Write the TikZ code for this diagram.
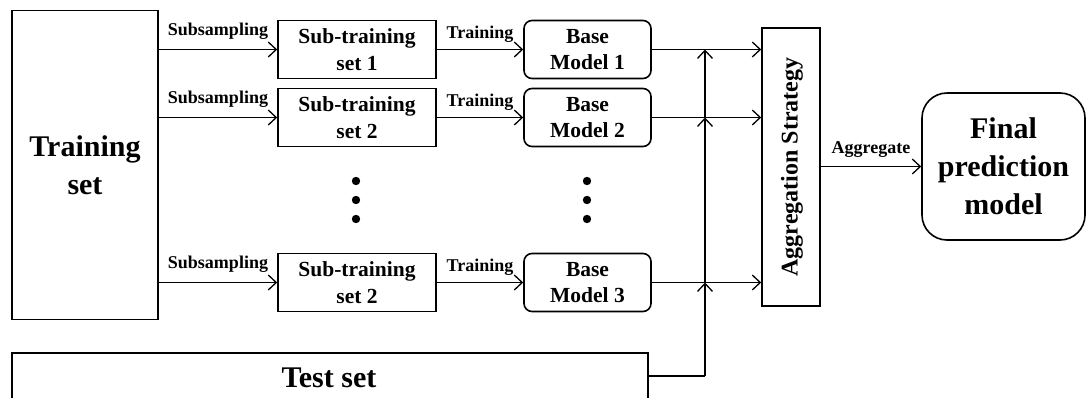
\documentclass[tikz,border=0pt]{standalone}
\usepackage{fontspec}
\setmainfont{Liberation Serif}
\usetikzlibrary{arrows.meta}

\begin{document}
\begin{tikzpicture}[
  x=1pt, y=-1pt,
  line width=1.6pt,
  font=\bfseries,
  box/.style={draw, rectangle, inner sep=0pt, align=center},
  rbox/.style={box, rounded corners=8pt},
  flow/.style={-{Straight Barb[length=8pt,width=15pt,line width=1.3pt]}, line width=1.3pt},
  edgelabel/.style={font=\bfseries\fontsize{18}{20}\selectfont, inner sep=0pt},
  small/.style={font=\bfseries\fontsize{21.5}{26.5}\selectfont},
  big/.style={font=\bfseries\fontsize{30}{38}\selectfont},
  dot/.style={fill=black, draw=none}
]
\useasboundingbox (0,0) rectangle (1088,397);
\clip (0,0) rectangle (1088,397);

% input data
\node[box, big, minimum width=146pt, minimum height=309pt] (train) at (85,165) {Training\\set};

% sub-training sets
\node[box, small, minimum width=158pt, minimum height=58pt] (sub1) at (357,49.5) {Sub-training\\set 1};
\node[box, small, minimum width=158pt, minimum height=58pt] (sub2) at (357,117.5) {Sub-training\\set 2};
\node[box, small, minimum width=158pt, minimum height=58pt] (sub3) at (357,282.5) {Sub-training\\set 2};

% base models
\node[rbox, small, minimum width=127pt, minimum height=58pt] (bm1) at (587.5,49.5) {Base\\Model 1};
\node[rbox, small, minimum width=127pt, minimum height=58pt] (bm2) at (587.5,117.5) {Base\\Model 2};
\node[rbox, small, minimum width=127pt, minimum height=58pt] (bm3) at (587.5,282.5) {Base\\Model 3};

% aggregation and final model
\node[box, minimum width=58pt, minimum height=278pt] (agg) at (791,167) {};
\node[rotate=90, inner sep=0pt, font=\bfseries\fontsize{24}{26}\selectfont] (aggtext) at ([xshift=1pt]agg.center) {Aggregation Strategy};
\node[box, big, rounded corners=25pt, minimum width=163pt, minimum height=147pt] (final) at (1003.5,166.5) {Final\\prediction\\model};

% test data
\node[box, minimum width=636pt, minimum height=60pt] (test) at (330,383) {};
\node[big, anchor=base, inner sep=0pt] (testtext) at (329,387) {Test set};

% ellipsis dots
\foreach \yy in {181,200,219} {
  \fill[dot] (356,\yy) circle (4.2pt);
  \fill[dot] (587,\yy) circle (4.2pt);
}

% subsampling, training and model outputs
\foreach \i in {1,2,3} {
  \draw[flow] (train.east |- sub\i.west) -- node[edgelabel, above=9pt] {Subsampling} (sub\i.west);
  \draw[flow] (sub\i.east) -- node[edgelabel, above=6pt] {Training} (bm\i.west);
  \draw[flow] (bm\i.east) -- (bm\i.east -| agg.west);
}

% test set feed
\coordinate (j0) at (705,376);
\coordinate (j3) at (705,282.5);
\coordinate (j2) at (705,117.5);
\coordinate (j1) at (705,49.5);
\draw (test.east |- j0) -- (j0);
\draw[flow] (j0) -- (j3);
\draw[flow] (j3) -- (j2);
\draw[flow] (j2) -- (j1);

% aggregation output
\draw[flow] (agg.east |- final.west) -- node[edgelabel, above=8pt] {Aggregate} (final.west);
\end{tikzpicture}
\end{document}
